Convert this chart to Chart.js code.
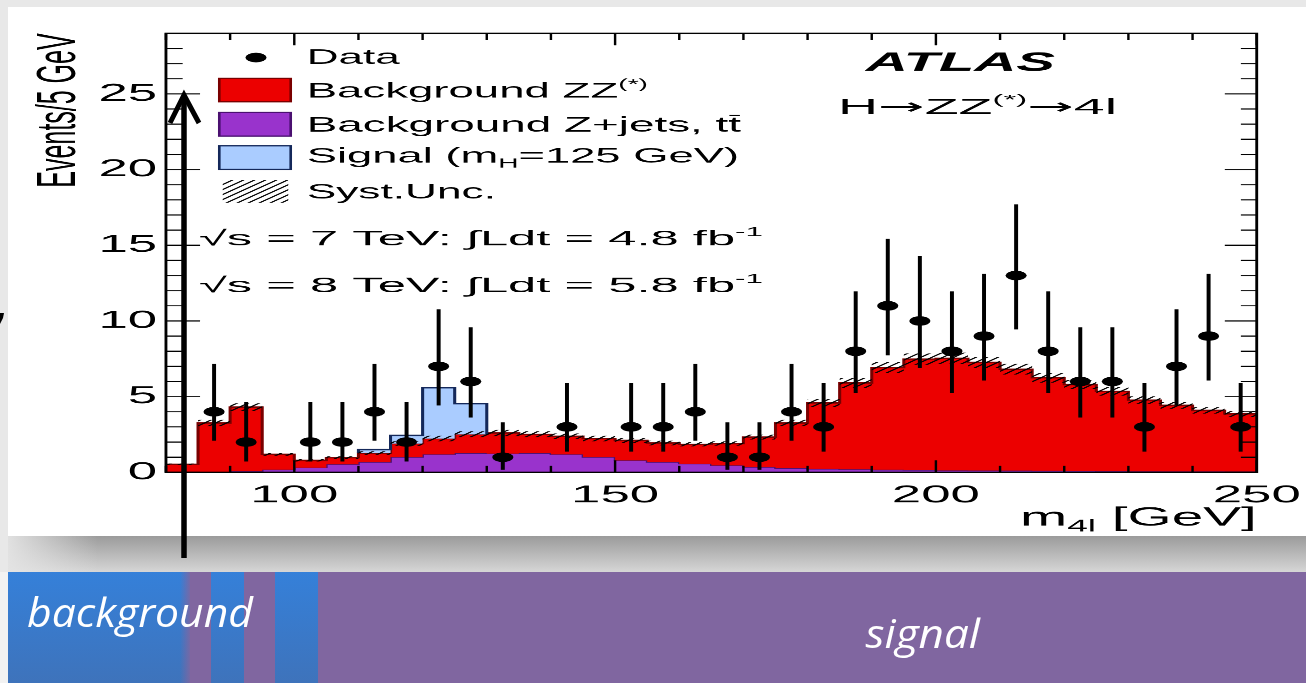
<!DOCTYPE html>
<html><head><meta charset="utf-8">
<script src="https://cdn.jsdelivr.net/npm/chart.js@4.4.1/dist/chart.umd.min.js"></script>
<style>
html,body{margin:0;padding:0}
body{width:1306px;height:683px;overflow:hidden;position:relative;background:#e8e8e8}
.abs{position:absolute}
#panel{left:8px;top:7px;width:1298px;height:529px;background:#fff}
#stage{left:8px;top:7px;width:590px;height:529px;transform:scaleX(2.2);transform-origin:0 0}
#shadow{left:8px;top:536px;width:1298px;height:36px;background:linear-gradient(#9b9b9b,#cdcdcd 85%,#d6d6d6)}
#shadowFade{left:8px;top:536px;width:90px;height:36px;background:linear-gradient(to right,rgba(228,228,228,0.95),rgba(228,228,228,0))}
#leftStrip{left:0;top:572px;width:8px;height:111px;background:#f2f2f2}
#barBase{left:8px;top:572px;width:1298px;height:111px;background:#8066a0}
.blue{top:572px;height:111px;background:linear-gradient(#3580d9,#3e73bb)}
</style></head>
<body>
<div id="panel" class="abs"></div>
<div id="stage" class="abs"><canvas id="c" width="590" height="529" style="width:590px;height:529px"></canvas></div>
<div id="shadow" class="abs"></div>
<div id="shadowFade" class="abs"></div>
<div id="leftStrip" class="abs"></div>
<div id="barBase" class="abs"></div>
<div class="abs blue" style="left:8px;width:182px"></div>
<div class="abs" style="left:180px;top:572px;width:10px;height:111px;background:linear-gradient(to right,rgba(128,102,160,0),rgba(128,102,160,0.85))"></div>
<div class="abs blue" style="left:211px;width:33px"></div>
<div class="abs blue" style="left:275px;width:43px"></div>
<svg class="abs" style="left:0;top:0" width="1306" height="683">
  <path d="M0,313 L4,313 L3,318 L0,324 Z" fill="#000"/>
  <line x1="184" y1="558" x2="184" y2="97" stroke="#000" stroke-width="5.5"/>
  <polyline points="170,123 184,95 199,123" fill="none" stroke="#000" stroke-width="5" stroke-linejoin="miter"/>
  <text x="27" y="627" font-family="'Open Sans', 'Noto Sans', sans-serif" font-style="italic" font-size="40" fill="#fff" textLength="226" lengthAdjust="spacingAndGlyphs">background</text>
  <text x="865.5" y="648" font-family="'Open Sans', 'Noto Sans', sans-serif" font-style="italic" font-size="40" fill="#fff" textLength="114.5" lengthAdjust="spacingAndGlyphs">signal</text>
</svg>
<script>
// ---- data (5 GeV bins, lower edges) ----
const massBinLow = [80,85,90,95,100,105,110,115,120,125,130,135,140,145,150,155,160,165,170,175,180,185,190,195,200,205,210,215,220,225,230,235,240,245];
const binWidth = 5;
const bkgZZ = [0.53,3.24,4.23,1.01,0.48,0.44,0.59,0.89,1.04,1.24,1.36,1.24,1.19,1.22,1.32,1.26,1.28,1.44,1.98,2.98,4.35,5.7,6.75,7.33,7.4,7.14,6.7,6.15,5.71,5.26,4.7,4.37,4.03,3.81];
const bkgZjets = [0,0.02,0.08,0.18,0.31,0.53,0.68,1.01,1.19,1.27,1.24,1.27,1.19,1.01,0.79,0.68,0.57,0.46,0.35,0.28,0.23,0.2,0.17,0.15,0.13,0.12,0.11,0.1,0.09,0.08,0.07,0.06,0.06,0.05];
const signalH125 = [0,0,0,0,0,0,0.23,0.54,3.36,2.03,0,0,0,0,0,0,0,0,0,0,0,0,0,0,0,0,0,0,0,0,0,0,0,0];
const systUnc = [0.05,0.2,0.25,0.1,0.08,0.1,0.12,0.15,0.18,0.2,0.2,0.2,0.19,0.18,0.16,0.15,0.14,0.14,0.16,0.2,0.26,0.32,0.36,0.38,0.38,0.37,0.35,0.32,0.3,0.28,0.25,0.23,0.21,0.2];
const dataCounts = [0,4,2,0,2,2,4,2,7,6,1,0,3,0,3,3,4,1,1,4,3,8,11,10,8,9,13,8,6,6,3,7,9,3];
const dataErrLow = [0,2.09,0.71,0,0.71,0.71,2.09,0.71,4.42,3.62,0.17,0,1.37,0,1.37,1.37,2.09,0.17,0.17,2.09,1.37,5.23,7.73,6.89,5.23,6.06,9.44,5.23,3.62,3.62,1.37,4.42,6.06,1.37];
const dataErrHigh = [0,7.16,4.64,0,4.64,4.64,7.16,4.64,10.77,9.58,3.30,0,5.92,0,5.92,5.92,7.16,3.30,3.30,7.16,5.92,11.95,15.42,14.27,11.95,13.11,17.70,11.95,9.58,9.58,5.92,10.77,13.11,5.92];
const xTickLabels = [100,150,200,250];
const yTickLabels = [0,5,10,15,20,25];

// ---- derived tables for the library ----
const STRETCH = 2.2;
const FONT = "'Liberation Sans', 'DejaVu Sans', Arial, sans-serif";
const lastEdge = massBinLow[massBinLow.length-1] + binWidth;
function stepPts(vals){ const p = massBinLow.map((e,i)=>({x:e,y:vals[i]})); p.push({x:lastEdge,y:vals[vals.length-1]}); return p; }
const topZjets = bkgZjets.slice();
const topBkg = bkgZjets.map((v,i)=>v+bkgZZ[i]);
const topSig = topBkg.map((v,i)=>v+signalH125[i]);
const sysUp = topBkg.map((v,i)=>v+systUnc[i]);
const sysDn = topBkg.map((v,i)=>Math.max(0,v-systUnc[i]));
const sigIdx = signalH125.map((v,i)=>v>0?i:-1).filter(i=>i>=0);
const sigOutline = [];
if (sigIdx.length){
  const f = sigIdx[0], l = sigIdx[sigIdx.length-1];
  sigOutline.push({x:massBinLow[f], y:topBkg[f]});
  for (let i=f;i<=l;i++) sigOutline.push({x:massBinLow[i], y:topSig[i]});
  sigOutline.push({x:massBinLow[l]+binWidth, y:topSig[l]});
  sigOutline.push({x:massBinLow[l]+binWidth, y:topBkg[l]});
}
const dataPts = massBinLow.map((e,i)=>dataCounts[i]>0?{x:e+binWidth/2,y:dataCounts[i]}:null).filter(p=>p);

function makeHatch(){
  const c = document.createElement('canvas'); c.width = 11; c.height = 11;
  const g = c.getContext('2d'); g.strokeStyle = '#000'; g.lineWidth = 2;
  g.beginPath(); g.moveTo(-1,12); g.lineTo(12,-1); g.moveTo(-3,3); g.lineTo(3,-3); g.moveTo(8,14); g.lineTo(14,8); g.stroke();
  const p = g.createPattern(c,'repeat');
  p.setTransform(new DOMMatrix().scale(1/STRETCH));
  return p;
}
const hatch = makeHatch();

function rich(ctx, parts, x, y, targetW){
  let w = 0;
  parts.forEach(p=>{ ctx.font = p.f; p.w = ctx.measureText(p.t).width; w += p.w; });
  const k = targetW ? targetW/w : 1;
  ctx.save(); ctx.translate(x,y); ctx.scale(k,1);
  ctx.fillStyle = '#000'; ctx.textAlign = 'left'; ctx.textBaseline = 'alphabetic';
  let cx = 0;
  parts.forEach(p=>{ ctx.font = p.f; ctx.fillText(p.t, cx, p.dy||0); if (p.bar) ctx.fillRect(cx+0.5, (p.dy||0)-17, p.w-1, 1.3); cx += p.w; });
  ctx.restore();
}

const rootPlugin = {
  id: 'rootStyle',
  afterDatasetsDraw(chart){
    const {ctx, chartArea:a, scales:{x, y}} = chart;
    ctx.save();
    ctx.strokeStyle = '#000'; ctx.lineWidth = 1.8;
    massBinLow.forEach((e,i)=>{
      if (dataCounts[i] <= 0) return;
      const px = x.getPixelForValue(e+binWidth/2);
      ctx.beginPath(); ctx.moveTo(px, y.getPixelForValue(dataErrLow[i])); ctx.lineTo(px, y.getPixelForValue(dataErrHigh[i])); ctx.stroke();
    });
    ctx.lineWidth = 1.1; ctx.beginPath();
    for (let v=0; v<29; v++){
      const py = y.getPixelForValue(v); const maj = v%5===0;
      ctx.moveTo(a.left, py); ctx.lineTo(a.left+(maj?15.5:7.6), py);
      ctx.moveTo(a.right, py); ctx.lineTo(a.right-(maj?14.5:7.2), py);
    }
    for (let v=80; v<=250; v+=10){
      const px = x.getPixelForValue(v); const maj = v%50===0;
      ctx.moveTo(px, a.bottom); ctx.lineTo(px, a.bottom-(maj?12:6.5));
      ctx.moveTo(px, a.top); ctx.lineTo(px, a.top+(maj?12:6.5));
    }
    ctx.stroke();
    ctx.lineWidth = 1.3; ctx.strokeRect(a.left, a.top, a.right-a.left, a.bottom-a.top);
    ctx.restore();
  },
  afterDraw(chart){
    const ctx = chart.ctx;
    const L = v => (v-8)/STRETCH, T = v => v-7, W = d => d/STRETCH;
    const F = (s, st) => (st||'') + ' ' + s + 'px ' + FONT;
    const FA = s => s + "px 'DejaVu Sans', sans-serif";
    ctx.save();
    ctx.fillStyle = '#000'; ctx.beginPath(); ctx.arc(L(256), T(57.5), 4.8, 0, Math.PI*2); ctx.fill();
    rich(ctx, [{t:'Data', f:F(21)}], L(306.7), T(64), W(93));
    const box = (x0,y0,x1,y1,fill,stroke)=>{ ctx.fillStyle = fill; ctx.fillRect(L(x0),T(y0),W(x1-x0),y1-y0); if(stroke){ctx.strokeStyle=stroke; ctx.lineWidth=1.2; ctx.strokeRect(L(x0),T(y0),W(x1-x0),y1-y0);} };
    box(219.3,78.3,290.7,101.7,'#ec0000','#7a0000');
    rich(ctx, [{t:'Background ZZ', f:F(21)}, {t:'(*)', f:F(13), dy:-9}], L(306.7), T(97.3), W(648-306.7));
    box(219.3,112.3,290.7,136,'#9933cc','#4a1070');
    rich(ctx, [{t:'Background Z+jets, t', f:F(21)}, {t:'t', f:F(21), bar:true}], L(306.7), T(131.7), W(741-306.7));
    box(219.3,145.7,290.7,169.3,'#aaccff','#14285a');
    rich(ctx, [{t:'Signal (m', f:F(21)}, {t:'H', f:F(13), dy:5}, {t:'=125 GeV)', f:F(21)}], L(306.7), T(162.3), W(739-306.7));
    box(222.7,180,288.3,202.7,hatch,null);
    rich(ctx, [{t:'Syst.Unc.', f:F(21)}], L(306.7), T(198.3), W(496-306.7));
    rich(ctx, [{t:'\u221As = 7 TeV: \u222BLdt = 4.8 fb', f:F(21)}, {t:'-1', f:F(13), dy:-9}], L(199), T(245), W(763-199));
    rich(ctx, [{t:'\u221As = 8 TeV: \u222BLdt = 5.8 fb', f:F(21)}, {t:'-1', f:F(13), dy:-9}], L(199), T(292), W(763-199));
    rich(ctx, [{t:'ATLAS', f:F(26,'italic bold')}], L(866), T(70.7), W(1055-866));
    rich(ctx, [{t:'H', f:F(22)}, {t:'\u2192', f:FA(22)}, {t:'ZZ', f:F(22)}, {t:'(*)', f:F(13), dy:-10}, {t:'\u2192', f:FA(22)}, {t:'4l', f:F(22)}], L(838), T(113.8), W(1117-838));
    rich(ctx, [{t:'m', f:F(26)}, {t:'4l', f:F(17), dy:6}, {t:' [GeV]', f:F(26)}], L(1020), T(525), W(1256.7-1020));
    ctx.restore();
  }
};

new Chart(document.getElementById('c'), {
  type: 'line',
  data: { datasets: [
    { label:'Data', data:dataPts, showLine:false, pointRadius:4.8, pointStyle:'circle', pointBackgroundColor:'#000', pointBorderColor:'#000', pointBorderWidth:0, borderColor:'#000' },
    { label:'sysUp', data:stepPts(sysUp), stepped:true, borderWidth:0, pointRadius:0, fill:false },
    { label:'Syst.Unc.', data:stepPts(sysDn), stepped:true, borderWidth:0, pointRadius:0, fill:{target:1}, backgroundColor:hatch },
    { label:'sigOutline', data:sigOutline, stepped:true, borderWidth:1.4, borderColor:'#14285a', pointRadius:0, fill:false },
    { label:'Signal (mH=125 GeV)', data:stepPts(topSig), stepped:true, borderWidth:0, pointRadius:0, fill:{target:5}, backgroundColor:'#aaccff' },
    { label:'Background ZZ(*)', data:stepPts(topBkg), stepped:true, borderWidth:1.4, borderColor:'#7a0000', pointRadius:0, fill:{target:6}, backgroundColor:'#ec0000' },
    { label:'Background Z+jets, tt', data:stepPts(topZjets), stepped:true, borderWidth:1.2, borderColor:'#4a1070', pointRadius:0, fill:'origin', backgroundColor:'#9933cc' }
  ]},
  options: {
    responsive:false, animation:false, devicePixelRatio:STRETCH, events:[],
    layout:{ padding:{ left:0, top:26.3, right:22.4, bottom:0 } },
    plugins:{ legend:{display:false}, tooltip:{enabled:false} },
    scales:{
      x:{ type:'linear', min:80, max:250,
          grid:{display:false, drawTicks:false}, border:{display:false},
          ticks:{ color:'#000', font:{family:FONT, size:24}, padding:9, maxRotation:0, autoSkip:false },
          afterBuildTicks: s => { s.ticks = xTickLabels.map(v=>({value:v})); },
          afterFit: s => { s.height = 64; s.paddingLeft = 0; s.paddingRight = 0; } },
      y:{ type:'linear', min:0, max:29,
          grid:{display:false, drawTicks:false}, border:{display:false},
          ticks:{ color:'#000', font:{family:FONT, size:24}, padding:4 },
          afterBuildTicks: s => { s.ticks = yTickLabels.map(v=>({value:v})); },
          title:{ display:true, text:'Events/5 GeV', align:'end', color:'#000', font:{family:FONT, size:25}, padding:{top:8.6, bottom:0} },
          afterFit: s => { s.width = 71.8; s.paddingTop = 0; s.paddingBottom = 0; } }
    }
  },
  plugins:[rootPlugin]
});
</script>
</body></html>
